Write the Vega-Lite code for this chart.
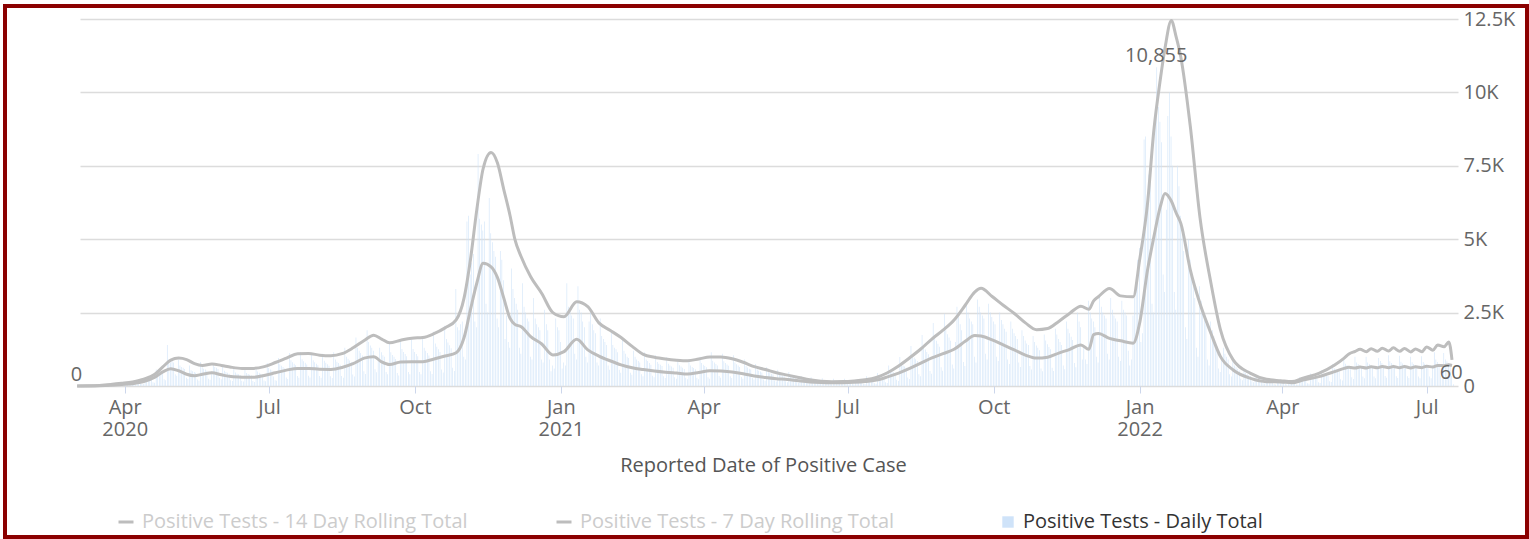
{
"$schema":"https://vega.github.io/schema/vega-lite/v6.json",
"width":1522,"height":531,
"autosize":{"type":"none"},
"padding":{"left":5,"top":6,"right":2,"bottom":2},
"background":"#ffffff",
"config":{"font":"Open Sans","view":{"stroke":"#8b0000","strokeWidth":4},"legend":{"labelFont":"Open Sans"},"axis":{"labelFont":"Open Sans","titleFont":"Open Sans"}},
"datasets":{
"daily":[
{"d":"2020-03-01","v":0},{"d":"2020-03-02","v":0},{"d":"2020-03-03","v":0},{"d":"2020-03-04","v":0},{"d":"2020-03-05","v":1},{"d":"2020-03-06","v":2},{"d":"2020-03-07","v":1},{"d":"2020-03-08","v":2},{"d":"2020-03-09","v":3},{"d":"2020-03-10","v":5},{"d":"2020-03-11","v":8},{"d":"2020-03-12","v":10},{"d":"2020-03-13","v":14},{"d":"2020-03-14","v":8},{"d":"2020-03-15","v":9},{"d":"2020-03-16","v":25},{"d":"2020-03-17","v":30},{"d":"2020-03-18","v":35},{"d":"2020-03-19","v":40},{"d":"2020-03-20","v":45},{"d":"2020-03-21","v":25},{"d":"2020-03-22","v":22},{"d":"2020-03-23","v":70},{"d":"2020-03-24","v":75},{"d":"2020-03-25","v":80},{"d":"2020-03-26","v":85},{"d":"2020-03-27","v":80},{"d":"2020-03-28","v":45},{"d":"2020-03-29","v":40},{"d":"2020-03-30","v":110},{"d":"2020-03-31","v":115},
{"d":"2020-04-01","v":120},{"d":"2020-04-02","v":125},{"d":"2020-04-03","v":120},{"d":"2020-04-04","v":60},{"d":"2020-04-05","v":55},{"d":"2020-04-06","v":170},{"d":"2020-04-07","v":160},{"d":"2020-04-08","v":165},{"d":"2020-04-09","v":170},{"d":"2020-04-10","v":160},{"d":"2020-04-11","v":80},{"d":"2020-04-12","v":70},{"d":"2020-04-13","v":280},{"d":"2020-04-14","v":260},{"d":"2020-04-15","v":250},{"d":"2020-04-16","v":270},{"d":"2020-04-17","v":260},{"d":"2020-04-18","v":130},{"d":"2020-04-19","v":110},{"d":"2020-04-20","v":560},{"d":"2020-04-21","v":480},{"d":"2020-04-22","v":460},{"d":"2020-04-23","v":500},{"d":"2020-04-24","v":470},{"d":"2020-04-25","v":230},{"d":"2020-04-26","v":200},{"d":"2020-04-27","v":1400},{"d":"2020-04-28","v":900},{"d":"2020-04-29","v":800},{"d":"2020-04-30","v":850},
{"d":"2020-05-01","v":800},{"d":"2020-05-02","v":400},{"d":"2020-05-03","v":350},{"d":"2020-05-04","v":900},{"d":"2020-05-05","v":700},{"d":"2020-05-06","v":650},{"d":"2020-05-07","v":620},{"d":"2020-05-08","v":580},{"d":"2020-05-09","v":280},{"d":"2020-05-10","v":240},{"d":"2020-05-11","v":700},{"d":"2020-05-12","v":540},{"d":"2020-05-13","v":500},{"d":"2020-05-14","v":480},{"d":"2020-05-15","v":450},{"d":"2020-05-16","v":220},{"d":"2020-05-17","v":180},{"d":"2020-05-18","v":820},{"d":"2020-05-19","v":640},{"d":"2020-05-20","v":590},{"d":"2020-05-21","v":560},{"d":"2020-05-22","v":520},{"d":"2020-05-23","v":250},{"d":"2020-05-24","v":210},{"d":"2020-05-25","v":500},{"d":"2020-05-26","v":720},{"d":"2020-05-27","v":650},{"d":"2020-05-28","v":620},{"d":"2020-05-29","v":580},{"d":"2020-05-30","v":280},{"d":"2020-05-31","v":230},
{"d":"2020-06-01","v":660},{"d":"2020-06-02","v":520},{"d":"2020-06-03","v":480},{"d":"2020-06-04","v":450},{"d":"2020-06-05","v":420},{"d":"2020-06-06","v":200},{"d":"2020-06-07","v":170},{"d":"2020-06-08","v":580},{"d":"2020-06-09","v":460},{"d":"2020-06-10","v":420},{"d":"2020-06-11","v":400},{"d":"2020-06-12","v":370},{"d":"2020-06-13","v":180},{"d":"2020-06-14","v":150},{"d":"2020-06-15","v":560},{"d":"2020-06-16","v":440},{"d":"2020-06-17","v":410},{"d":"2020-06-18","v":380},{"d":"2020-06-19","v":360},{"d":"2020-06-20","v":170},{"d":"2020-06-21","v":140},{"d":"2020-06-22","v":620},{"d":"2020-06-23","v":490},{"d":"2020-06-24","v":450},{"d":"2020-06-25","v":420},{"d":"2020-06-26","v":400},{"d":"2020-06-27","v":190},{"d":"2020-06-28","v":160},{"d":"2020-06-29","v":780},{"d":"2020-06-30","v":610},
{"d":"2020-07-01","v":560},{"d":"2020-07-02","v":530},{"d":"2020-07-03","v":320},{"d":"2020-07-04","v":200},{"d":"2020-07-05","v":180},{"d":"2020-07-06","v":950},{"d":"2020-07-07","v":740},{"d":"2020-07-08","v":690},{"d":"2020-07-09","v":650},{"d":"2020-07-10","v":600},{"d":"2020-07-11","v":290},{"d":"2020-07-12","v":240},{"d":"2020-07-13","v":1120},{"d":"2020-07-14","v":880},{"d":"2020-07-15","v":810},{"d":"2020-07-16","v":760},{"d":"2020-07-17","v":710},{"d":"2020-07-18","v":340},{"d":"2020-07-19","v":280},{"d":"2020-07-20","v":1160},{"d":"2020-07-21","v":910},{"d":"2020-07-22","v":840},{"d":"2020-07-23","v":790},{"d":"2020-07-24","v":730},{"d":"2020-07-25","v":350},{"d":"2020-07-26","v":290},{"d":"2020-07-27","v":1120},{"d":"2020-07-28","v":880},{"d":"2020-07-29","v":810},{"d":"2020-07-30","v":760},{"d":"2020-07-31","v":710},
{"d":"2020-08-01","v":340},{"d":"2020-08-02","v":280},{"d":"2020-08-03","v":1100},{"d":"2020-08-04","v":860},{"d":"2020-08-05","v":790},{"d":"2020-08-06","v":740},{"d":"2020-08-07","v":690},{"d":"2020-08-08","v":330},{"d":"2020-08-09","v":270},{"d":"2020-08-10","v":1150},{"d":"2020-08-11","v":900},{"d":"2020-08-12","v":830},{"d":"2020-08-13","v":780},{"d":"2020-08-14","v":720},{"d":"2020-08-15","v":340},{"d":"2020-08-16","v":280},{"d":"2020-08-17","v":1300},{"d":"2020-08-18","v":1000},{"d":"2020-08-19","v":930},{"d":"2020-08-20","v":870},{"d":"2020-08-21","v":810},{"d":"2020-08-22","v":390},{"d":"2020-08-23","v":320},{"d":"2020-08-24","v":1650},{"d":"2020-08-25","v":1300},{"d":"2020-08-26","v":1200},{"d":"2020-08-27","v":1120},{"d":"2020-08-28","v":1040},{"d":"2020-08-29","v":500},{"d":"2020-08-30","v":410},{"d":"2020-08-31","v":1900},
{"d":"2020-09-01","v":1500},{"d":"2020-09-02","v":1380},{"d":"2020-09-03","v":1300},{"d":"2020-09-04","v":1200},{"d":"2020-09-05","v":570},{"d":"2020-09-06","v":470},{"d":"2020-09-07","v":900},{"d":"2020-09-08","v":1300},{"d":"2020-09-09","v":1150},{"d":"2020-09-10","v":1050},{"d":"2020-09-11","v":1000},{"d":"2020-09-12","v":480},{"d":"2020-09-13","v":400},{"d":"2020-09-14","v":1450},{"d":"2020-09-15","v":1150},{"d":"2020-09-16","v":1060},{"d":"2020-09-17","v":1000},{"d":"2020-09-18","v":920},{"d":"2020-09-19","v":440},{"d":"2020-09-20","v":360},{"d":"2020-09-21","v":1600},{"d":"2020-09-22","v":1260},{"d":"2020-09-23","v":1160},{"d":"2020-09-24","v":1090},{"d":"2020-09-25","v":1010},{"d":"2020-09-26","v":480},{"d":"2020-09-27","v":400},{"d":"2020-09-28","v":1600},{"d":"2020-09-29","v":1260},{"d":"2020-09-30","v":1160},
{"d":"2020-10-01","v":1090},{"d":"2020-10-02","v":1010},{"d":"2020-10-03","v":480},{"d":"2020-10-04","v":400},{"d":"2020-10-05","v":1650},{"d":"2020-10-06","v":1300},{"d":"2020-10-07","v":1200},{"d":"2020-10-08","v":1120},{"d":"2020-10-09","v":1040},{"d":"2020-10-10","v":500},{"d":"2020-10-11","v":410},{"d":"2020-10-12","v":1850},{"d":"2020-10-13","v":1450},{"d":"2020-10-14","v":1340},{"d":"2020-10-15","v":1250},{"d":"2020-10-16","v":1160},{"d":"2020-10-17","v":560},{"d":"2020-10-18","v":460},{"d":"2020-10-19","v":2050},{"d":"2020-10-20","v":1600},{"d":"2020-10-21","v":1480},{"d":"2020-10-22","v":1390},{"d":"2020-10-23","v":1290},{"d":"2020-10-24","v":620},{"d":"2020-10-25","v":510},{"d":"2020-10-26","v":3300},{"d":"2020-10-27","v":2000},{"d":"2020-10-28","v":1900},{"d":"2020-10-29","v":2100},{"d":"2020-10-30","v":2200},{"d":"2020-10-31","v":1000},
{"d":"2020-11-01","v":900},{"d":"2020-11-02","v":5600},{"d":"2020-11-03","v":5800},{"d":"2020-11-04","v":3800},{"d":"2020-11-05","v":4200},{"d":"2020-11-06","v":4500},{"d":"2020-11-07","v":2200},{"d":"2020-11-08","v":2000},{"d":"2020-11-09","v":7900},{"d":"2020-11-10","v":5700},{"d":"2020-11-11","v":5500},{"d":"2020-11-12","v":5300},{"d":"2020-11-13","v":5600},{"d":"2020-11-14","v":2800},{"d":"2020-11-15","v":2500},{"d":"2020-11-16","v":6400},{"d":"2020-11-17","v":5200},{"d":"2020-11-18","v":4900},{"d":"2020-11-19","v":4600},{"d":"2020-11-20","v":4400},{"d":"2020-11-21","v":2300},{"d":"2020-11-22","v":2000},{"d":"2020-11-23","v":4600},{"d":"2020-11-24","v":4300},{"d":"2020-11-25","v":3600},{"d":"2020-11-26","v":1600},{"d":"2020-11-27","v":2400},{"d":"2020-11-28","v":1500},{"d":"2020-11-29","v":1300},{"d":"2020-11-30","v":4000},
{"d":"2020-12-01","v":3300},{"d":"2020-12-02","v":3000},{"d":"2020-12-03","v":2800},{"d":"2020-12-04","v":2600},{"d":"2020-12-05","v":1300},{"d":"2020-12-06","v":1100},{"d":"2020-12-07","v":3500},{"d":"2020-12-08","v":2700},{"d":"2020-12-09","v":2500},{"d":"2020-12-10","v":2300},{"d":"2020-12-11","v":2200},{"d":"2020-12-12","v":1000},{"d":"2020-12-13","v":900},{"d":"2020-12-14","v":3000},{"d":"2020-12-15","v":2300},{"d":"2020-12-16","v":2100},{"d":"2020-12-17","v":2000},{"d":"2020-12-18","v":1900},{"d":"2020-12-19","v":900},{"d":"2020-12-20","v":800},{"d":"2020-12-21","v":2600},{"d":"2020-12-22","v":2100},{"d":"2020-12-23","v":1900},{"d":"2020-12-24","v":900},{"d":"2020-12-25","v":500},{"d":"2020-12-26","v":700},{"d":"2020-12-27","v":600},{"d":"2020-12-28","v":2300},{"d":"2020-12-29","v":2000},{"d":"2020-12-30","v":1900},{"d":"2020-12-31","v":1500},
{"d":"2021-01-01","v":600},{"d":"2021-01-02","v":800},{"d":"2021-01-03","v":700},{"d":"2021-01-04","v":3500},{"d":"2021-01-05","v":2700},{"d":"2021-01-06","v":2600},{"d":"2021-01-07","v":2400},{"d":"2021-01-08","v":2300},{"d":"2021-01-09","v":1100},{"d":"2021-01-10","v":900},{"d":"2021-01-11","v":3400},{"d":"2021-01-12","v":2600},{"d":"2021-01-13","v":2500},{"d":"2021-01-14","v":2200},{"d":"2021-01-15","v":2000},{"d":"2021-01-16","v":1000},{"d":"2021-01-17","v":800},{"d":"2021-01-18","v":2200},{"d":"2021-01-19","v":2500},{"d":"2021-01-20","v":2100},{"d":"2021-01-21","v":1900},{"d":"2021-01-22","v":1800},{"d":"2021-01-23","v":800},{"d":"2021-01-24","v":700},{"d":"2021-01-25","v":2300},{"d":"2021-01-26","v":1700},{"d":"2021-01-27","v":1600},{"d":"2021-01-28","v":1500},{"d":"2021-01-29","v":1400},{"d":"2021-01-30","v":700},{"d":"2021-01-31","v":550},
{"d":"2021-02-01","v":1900},{"d":"2021-02-02","v":1400},{"d":"2021-02-03","v":1300},{"d":"2021-02-04","v":1250},{"d":"2021-02-05","v":1150},{"d":"2021-02-06","v":550},{"d":"2021-02-07","v":450},{"d":"2021-02-08","v":1600},{"d":"2021-02-09","v":1200},{"d":"2021-02-10","v":1100},{"d":"2021-02-11","v":1000},{"d":"2021-02-12","v":950},{"d":"2021-02-13","v":450},{"d":"2021-02-14","v":380},{"d":"2021-02-15","v":1200},{"d":"2021-02-16","v":1000},{"d":"2021-02-17","v":900},{"d":"2021-02-18","v":850},{"d":"2021-02-19","v":800},{"d":"2021-02-20","v":400},{"d":"2021-02-21","v":330},{"d":"2021-02-22","v":1150},{"d":"2021-02-23","v":900},{"d":"2021-02-24","v":850},{"d":"2021-02-25","v":780},{"d":"2021-02-26","v":720},{"d":"2021-02-27","v":350},{"d":"2021-02-28","v":300},
{"d":"2021-03-01","v":1050},{"d":"2021-03-02","v":820},{"d":"2021-03-03","v":760},{"d":"2021-03-04","v":720},{"d":"2021-03-05","v":680},{"d":"2021-03-06","v":330},{"d":"2021-03-07","v":270},{"d":"2021-03-08","v":980},{"d":"2021-03-09","v":760},{"d":"2021-03-10","v":700},{"d":"2021-03-11","v":660},{"d":"2021-03-12","v":620},{"d":"2021-03-13","v":300},{"d":"2021-03-14","v":250},{"d":"2021-03-15","v":900},{"d":"2021-03-16","v":710},{"d":"2021-03-17","v":660},{"d":"2021-03-18","v":620},{"d":"2021-03-19","v":580},{"d":"2021-03-20","v":280},{"d":"2021-03-21","v":230},{"d":"2021-03-22","v":880},{"d":"2021-03-23","v":700},{"d":"2021-03-24","v":650},{"d":"2021-03-25","v":610},{"d":"2021-03-26","v":570},{"d":"2021-03-27","v":280},{"d":"2021-03-28","v":230},{"d":"2021-03-29","v":1000},{"d":"2021-03-30","v":780},{"d":"2021-03-31","v":720},
{"d":"2021-04-01","v":680},{"d":"2021-04-02","v":640},{"d":"2021-04-03","v":300},{"d":"2021-04-04","v":250},{"d":"2021-04-05","v":1150},{"d":"2021-04-06","v":860},{"d":"2021-04-07","v":800},{"d":"2021-04-08","v":750},{"d":"2021-04-09","v":700},{"d":"2021-04-10","v":340},{"d":"2021-04-11","v":280},{"d":"2021-04-12","v":1100},{"d":"2021-04-13","v":840},{"d":"2021-04-14","v":780},{"d":"2021-04-15","v":730},{"d":"2021-04-16","v":690},{"d":"2021-04-17","v":330},{"d":"2021-04-18","v":270},{"d":"2021-04-19","v":1050},{"d":"2021-04-20","v":800},{"d":"2021-04-21","v":740},{"d":"2021-04-22","v":700},{"d":"2021-04-23","v":650},{"d":"2021-04-24","v":310},{"d":"2021-04-25","v":250},{"d":"2021-04-26","v":900},{"d":"2021-04-27","v":680},{"d":"2021-04-28","v":630},{"d":"2021-04-29","v":590},{"d":"2021-04-30","v":560},
{"d":"2021-05-01","v":270},{"d":"2021-05-02","v":220},{"d":"2021-05-03","v":750},{"d":"2021-05-04","v":570},{"d":"2021-05-05","v":520},{"d":"2021-05-06","v":490},{"d":"2021-05-07","v":460},{"d":"2021-05-08","v":220},{"d":"2021-05-09","v":180},{"d":"2021-05-10","v":640},{"d":"2021-05-11","v":480},{"d":"2021-05-12","v":450},{"d":"2021-05-13","v":420},{"d":"2021-05-14","v":390},{"d":"2021-05-15","v":190},{"d":"2021-05-16","v":150},{"d":"2021-05-17","v":550},{"d":"2021-05-18","v":420},{"d":"2021-05-19","v":390},{"d":"2021-05-20","v":360},{"d":"2021-05-21","v":340},{"d":"2021-05-22","v":160},{"d":"2021-05-23","v":130},{"d":"2021-05-24","v":480},{"d":"2021-05-25","v":370},{"d":"2021-05-26","v":340},{"d":"2021-05-27","v":320},{"d":"2021-05-28","v":300},{"d":"2021-05-29","v":140},{"d":"2021-05-30","v":110},{"d":"2021-05-31","v":250},
{"d":"2021-06-01","v":330},{"d":"2021-06-02","v":270},{"d":"2021-06-03","v":250},{"d":"2021-06-04","v":230},{"d":"2021-06-05","v":110},{"d":"2021-06-06","v":90},{"d":"2021-06-07","v":300},{"d":"2021-06-08","v":230},{"d":"2021-06-09","v":210},{"d":"2021-06-10","v":200},{"d":"2021-06-11","v":185},{"d":"2021-06-12","v":90},{"d":"2021-06-13","v":70},{"d":"2021-06-14","v":260},{"d":"2021-06-15","v":200},{"d":"2021-06-16","v":185},{"d":"2021-06-17","v":170},{"d":"2021-06-18","v":160},{"d":"2021-06-19","v":75},{"d":"2021-06-20","v":60},{"d":"2021-06-21","v":245},{"d":"2021-06-22","v":190},{"d":"2021-06-23","v":175},{"d":"2021-06-24","v":165},{"d":"2021-06-25","v":150},{"d":"2021-06-26","v":72},{"d":"2021-06-27","v":58},{"d":"2021-06-28","v":250},{"d":"2021-06-29","v":195},{"d":"2021-06-30","v":180},
{"d":"2021-07-01","v":170},{"d":"2021-07-02","v":155},{"d":"2021-07-03","v":75},{"d":"2021-07-04","v":60},{"d":"2021-07-05","v":180},{"d":"2021-07-06","v":240},{"d":"2021-07-07","v":200},{"d":"2021-07-08","v":185},{"d":"2021-07-09","v":170},{"d":"2021-07-10","v":80},{"d":"2021-07-11","v":65},{"d":"2021-07-12","v":330},{"d":"2021-07-13","v":250},{"d":"2021-07-14","v":235},{"d":"2021-07-15","v":220},{"d":"2021-07-16","v":205},{"d":"2021-07-17","v":95},{"d":"2021-07-18","v":80},{"d":"2021-07-19","v":440},{"d":"2021-07-20","v":340},{"d":"2021-07-21","v":315},{"d":"2021-07-22","v":295},{"d":"2021-07-23","v":275},{"d":"2021-07-24","v":130},{"d":"2021-07-25","v":105},{"d":"2021-07-26","v":700},{"d":"2021-07-27","v":540},{"d":"2021-07-28","v":500},{"d":"2021-07-29","v":470},{"d":"2021-07-30","v":440},{"d":"2021-07-31","v":210},
{"d":"2021-08-01","v":170},{"d":"2021-08-02","v":990},{"d":"2021-08-03","v":760},{"d":"2021-08-04","v":700},{"d":"2021-08-05","v":660},{"d":"2021-08-06","v":620},{"d":"2021-08-07","v":290},{"d":"2021-08-08","v":240},{"d":"2021-08-09","v":1360},{"d":"2021-08-10","v":1050},{"d":"2021-08-11","v":970},{"d":"2021-08-12","v":910},{"d":"2021-08-13","v":850},{"d":"2021-08-14","v":400},{"d":"2021-08-15","v":330},{"d":"2021-08-16","v":1740},{"d":"2021-08-17","v":1340},{"d":"2021-08-18","v":1240},{"d":"2021-08-19","v":1160},{"d":"2021-08-20","v":1080},{"d":"2021-08-21","v":510},{"d":"2021-08-22","v":420},{"d":"2021-08-23","v":2150},{"d":"2021-08-24","v":1660},{"d":"2021-08-25","v":1540},{"d":"2021-08-26","v":1440},{"d":"2021-08-27","v":1340},{"d":"2021-08-28","v":640},{"d":"2021-08-29","v":520},{"d":"2021-08-30","v":2460},{"d":"2021-08-31","v":1900},
{"d":"2021-09-01","v":1760},{"d":"2021-09-02","v":1650},{"d":"2021-09-03","v":1540},{"d":"2021-09-04","v":730},{"d":"2021-09-05","v":600},{"d":"2021-09-06","v":1500},{"d":"2021-09-07","v":2700},{"d":"2021-09-08","v":2400},{"d":"2021-09-09","v":2100},{"d":"2021-09-10","v":1900},{"d":"2021-09-11","v":820},{"d":"2021-09-12","v":680},{"d":"2021-09-13","v":2900},{"d":"2021-09-14","v":2500},{"d":"2021-09-15","v":2300},{"d":"2021-09-16","v":2200},{"d":"2021-09-17","v":2100},{"d":"2021-09-18","v":1000},{"d":"2021-09-19","v":800},{"d":"2021-09-20","v":2950},{"d":"2021-09-21","v":2700},{"d":"2021-09-22","v":2500},{"d":"2021-09-23","v":2400},{"d":"2021-09-24","v":2300},{"d":"2021-09-25","v":1100},{"d":"2021-09-26","v":900},{"d":"2021-09-27","v":2800},{"d":"2021-09-28","v":2500},{"d":"2021-09-29","v":2350},{"d":"2021-09-30","v":2200},
{"d":"2021-10-01","v":2100},{"d":"2021-10-02","v":1000},{"d":"2021-10-03","v":850},{"d":"2021-10-04","v":2500},{"d":"2021-10-05","v":2250},{"d":"2021-10-06","v":2100},{"d":"2021-10-07","v":1950},{"d":"2021-10-08","v":1850},{"d":"2021-10-09","v":900},{"d":"2021-10-10","v":750},{"d":"2021-10-11","v":2200},{"d":"2021-10-12","v":1950},{"d":"2021-10-13","v":1800},{"d":"2021-10-14","v":1700},{"d":"2021-10-15","v":1600},{"d":"2021-10-16","v":800},{"d":"2021-10-17","v":650},{"d":"2021-10-18","v":1900},{"d":"2021-10-19","v":1700},{"d":"2021-10-20","v":1550},{"d":"2021-10-21","v":1450},{"d":"2021-10-22","v":1400},{"d":"2021-10-23","v":680},{"d":"2021-10-24","v":560},{"d":"2021-10-25","v":1700},{"d":"2021-10-26","v":1500},{"d":"2021-10-27","v":1380},{"d":"2021-10-28","v":1300},{"d":"2021-10-29","v":1220},{"d":"2021-10-30","v":600},{"d":"2021-10-31","v":500},
{"d":"2021-11-01","v":1750},{"d":"2021-11-02","v":1550},{"d":"2021-11-03","v":1420},{"d":"2021-11-04","v":1330},{"d":"2021-11-05","v":1250},{"d":"2021-11-06","v":620},{"d":"2021-11-07","v":510},{"d":"2021-11-08","v":1950},{"d":"2021-11-09","v":1750},{"d":"2021-11-10","v":1600},{"d":"2021-11-11","v":1500},{"d":"2021-11-12","v":1400},{"d":"2021-11-13","v":700},{"d":"2021-11-14","v":570},{"d":"2021-11-15","v":2200},{"d":"2021-11-16","v":1950},{"d":"2021-11-17","v":1800},{"d":"2021-11-18","v":1680},{"d":"2021-11-19","v":1570},{"d":"2021-11-20","v":780},{"d":"2021-11-21","v":640},{"d":"2021-11-22","v":2500},{"d":"2021-11-23","v":2200},{"d":"2021-11-24","v":2000},{"d":"2021-11-25","v":900},{"d":"2021-11-26","v":1400},{"d":"2021-11-27","v":900},{"d":"2021-11-28","v":750},{"d":"2021-11-29","v":2900},{"d":"2021-11-30","v":2500},
{"d":"2021-12-01","v":2300},{"d":"2021-12-02","v":2200},{"d":"2021-12-03","v":2000},{"d":"2021-12-04","v":1000},{"d":"2021-12-05","v":800},{"d":"2021-12-06","v":3100},{"d":"2021-12-07","v":2700},{"d":"2021-12-08","v":2500},{"d":"2021-12-09","v":2400},{"d":"2021-12-10","v":2300},{"d":"2021-12-11","v":1100},{"d":"2021-12-12","v":900},{"d":"2021-12-13","v":3000},{"d":"2021-12-14","v":2600},{"d":"2021-12-15","v":2400},{"d":"2021-12-16","v":2300},{"d":"2021-12-17","v":2200},{"d":"2021-12-18","v":1000},{"d":"2021-12-19","v":850},{"d":"2021-12-20","v":2900},{"d":"2021-12-21","v":2600},{"d":"2021-12-22","v":2500},{"d":"2021-12-23","v":2400},{"d":"2021-12-24","v":1200},{"d":"2021-12-25","v":700},{"d":"2021-12-26","v":900},{"d":"2021-12-27","v":2400},{"d":"2021-12-28","v":3000},{"d":"2021-12-29","v":3500},{"d":"2021-12-30","v":4300},{"d":"2021-12-31","v":4700},
{"d":"2022-01-01","v":1500},{"d":"2022-01-02","v":1800},{"d":"2022-01-03","v":8400},{"d":"2022-01-04","v":8500},{"d":"2022-01-05","v":6500},{"d":"2022-01-06","v":7200},{"d":"2022-01-07","v":7000},{"d":"2022-01-08","v":2800},{"d":"2022-01-09","v":2500},{"d":"2022-01-10","v":9000},{"d":"2022-01-11","v":10855},{"d":"2022-01-12","v":9500},{"d":"2022-01-13","v":9000},{"d":"2022-01-14","v":8300},{"d":"2022-01-15","v":3800},{"d":"2022-01-16","v":3200},{"d":"2022-01-17","v":6000},{"d":"2022-01-18","v":9200},{"d":"2022-01-19","v":10000},{"d":"2022-01-20","v":8500},{"d":"2022-01-21","v":7500},{"d":"2022-01-22","v":3200},{"d":"2022-01-23","v":2600},{"d":"2022-01-24","v":7500},{"d":"2022-01-25","v":6800},{"d":"2022-01-26","v":5800},{"d":"2022-01-27","v":5200},{"d":"2022-01-28","v":4600},{"d":"2022-01-29","v":2000},{"d":"2022-01-30","v":1600},{"d":"2022-01-31","v":5000},
{"d":"2022-02-01","v":4300},{"d":"2022-02-02","v":3800},{"d":"2022-02-03","v":3400},{"d":"2022-02-04","v":3000},{"d":"2022-02-05","v":1300},{"d":"2022-02-06","v":1000},{"d":"2022-02-07","v":3400},{"d":"2022-02-08","v":2900},{"d":"2022-02-09","v":2600},{"d":"2022-02-10","v":2300},{"d":"2022-02-11","v":2100},{"d":"2022-02-12","v":900},{"d":"2022-02-13","v":700},{"d":"2022-02-14","v":2200},{"d":"2022-02-15","v":1900},{"d":"2022-02-16","v":1700},{"d":"2022-02-17","v":1500},{"d":"2022-02-18","v":1350},{"d":"2022-02-19","v":600},{"d":"2022-02-20","v":480},{"d":"2022-02-21","v":900},{"d":"2022-02-22","v":1300},{"d":"2022-02-23","v":1100},{"d":"2022-02-24","v":1000},{"d":"2022-02-25","v":900},{"d":"2022-02-26","v":400},{"d":"2022-02-27","v":320},{"d":"2022-02-28","v":900},
{"d":"2022-03-01","v":700},{"d":"2022-03-02","v":640},{"d":"2022-03-03","v":580},{"d":"2022-03-04","v":530},{"d":"2022-03-05","v":250},{"d":"2022-03-06","v":200},{"d":"2022-03-07","v":560},{"d":"2022-03-08","v":440},{"d":"2022-03-09","v":400},{"d":"2022-03-10","v":370},{"d":"2022-03-11","v":340},{"d":"2022-03-12","v":160},{"d":"2022-03-13","v":130},{"d":"2022-03-14","v":370},{"d":"2022-03-15","v":290},{"d":"2022-03-16","v":270},{"d":"2022-03-17","v":250},{"d":"2022-03-18","v":230},{"d":"2022-03-19","v":110},{"d":"2022-03-20","v":85},{"d":"2022-03-21","v":240},{"d":"2022-03-22","v":190},{"d":"2022-03-23","v":175},{"d":"2022-03-24","v":165},{"d":"2022-03-25","v":150},{"d":"2022-03-26","v":70},{"d":"2022-03-27","v":55},{"d":"2022-03-28","v":215},{"d":"2022-03-29","v":170},{"d":"2022-03-30","v":160},{"d":"2022-03-31","v":150},
{"d":"2022-04-01","v":140},{"d":"2022-04-02","v":65},{"d":"2022-04-03","v":50},{"d":"2022-04-04","v":180},{"d":"2022-04-05","v":145},{"d":"2022-04-06","v":135},{"d":"2022-04-07","v":125},{"d":"2022-04-08","v":115},{"d":"2022-04-09","v":55},{"d":"2022-04-10","v":45},{"d":"2022-04-11","v":300},{"d":"2022-04-12","v":240},{"d":"2022-04-13","v":225},{"d":"2022-04-14","v":210},{"d":"2022-04-15","v":195},{"d":"2022-04-16","v":90},{"d":"2022-04-17","v":75},{"d":"2022-04-18","v":430},{"d":"2022-04-19","v":340},{"d":"2022-04-20","v":320},{"d":"2022-04-21","v":300},{"d":"2022-04-22","v":280},{"d":"2022-04-23","v":130},{"d":"2022-04-24","v":105},{"d":"2022-04-25","v":540},{"d":"2022-04-26","v":430},{"d":"2022-04-27","v":400},{"d":"2022-04-28","v":370},{"d":"2022-04-29","v":350},{"d":"2022-04-30","v":165},
{"d":"2022-05-01","v":135},{"d":"2022-05-02","v":750},{"d":"2022-05-03","v":600},{"d":"2022-05-04","v":560},{"d":"2022-05-05","v":520},{"d":"2022-05-06","v":490},{"d":"2022-05-07","v":230},{"d":"2022-05-08","v":190},{"d":"2022-05-09","v":950},{"d":"2022-05-10","v":760},{"d":"2022-05-11","v":710},{"d":"2022-05-12","v":660},{"d":"2022-05-13","v":620},{"d":"2022-05-14","v":300},{"d":"2022-05-15","v":240},{"d":"2022-05-16","v":1000},{"d":"2022-05-17","v":800},{"d":"2022-05-18","v":750},{"d":"2022-05-19","v":700},{"d":"2022-05-20","v":660},{"d":"2022-05-21","v":320},{"d":"2022-05-22","v":260},{"d":"2022-05-23","v":1000},{"d":"2022-05-24","v":800},{"d":"2022-05-25","v":750},{"d":"2022-05-26","v":700},{"d":"2022-05-27","v":660},{"d":"2022-05-28","v":320},{"d":"2022-05-29","v":260},{"d":"2022-05-30","v":650},{"d":"2022-05-31","v":950},
{"d":"2022-06-01","v":850},{"d":"2022-06-02","v":780},{"d":"2022-06-03","v":720},{"d":"2022-06-04","v":340},{"d":"2022-06-05","v":280},{"d":"2022-06-06","v":1050},{"d":"2022-06-07","v":840},{"d":"2022-06-08","v":780},{"d":"2022-06-09","v":730},{"d":"2022-06-10","v":690},{"d":"2022-06-11","v":330},{"d":"2022-06-12","v":270},{"d":"2022-06-13","v":1030},{"d":"2022-06-14","v":830},{"d":"2022-06-15","v":770},{"d":"2022-06-16","v":720},{"d":"2022-06-17","v":680},{"d":"2022-06-18","v":330},{"d":"2022-06-19","v":270},{"d":"2022-06-20","v":1000},{"d":"2022-06-21","v":810},{"d":"2022-06-22","v":750},{"d":"2022-06-23","v":700},{"d":"2022-06-24","v":660},{"d":"2022-06-25","v":320},{"d":"2022-06-26","v":260},{"d":"2022-06-27","v":1010},{"d":"2022-06-28","v":820},{"d":"2022-06-29","v":760},{"d":"2022-06-30","v":710},
{"d":"2022-07-01","v":670},{"d":"2022-07-02","v":320},{"d":"2022-07-03","v":260},{"d":"2022-07-04","v":700},{"d":"2022-07-05","v":1150},{"d":"2022-07-06","v":900},{"d":"2022-07-07","v":820},{"d":"2022-07-08","v":760},{"d":"2022-07-09","v":360},{"d":"2022-07-10","v":290},{"d":"2022-07-11","v":1120},{"d":"2022-07-12","v":900},{"d":"2022-07-13","v":840},{"d":"2022-07-14","v":780},{"d":"2022-07-15","v":730},{"d":"2022-07-16","v":350},{"d":"2022-07-17","v":60}
],
"lines":[
{"d":"2020-03-02","a":0,"b":0},{"d":"2020-03-09","a":5,"b":3},{"d":"2020-03-16","a":20,"b":10},{"d":"2020-03-23","a":50,"b":25},{"d":"2020-03-30","a":90,"b":50},{"d":"2020-04-06","a":140,"b":80},{"d":"2020-04-13","a":230,"b":150},{"d":"2020-04-20","a":400,"b":300},{"d":"2020-04-25","a":650,"b":480},{"d":"2020-04-30","a":880,"b":590},{"d":"2020-05-05","a":950,"b":520},{"d":"2020-05-10","a":900,"b":400},{"d":"2020-05-15","a":760,"b":350},{"d":"2020-05-20","a":700,"b":400},{"d":"2020-05-26","a":750,"b":450},{"d":"2020-06-01","a":700,"b":380},{"d":"2020-06-07","a":640,"b":320},{"d":"2020-06-14","a":600,"b":300},{"d":"2020-06-21","a":600,"b":295},{"d":"2020-06-28","a":660,"b":360},{"d":"2020-07-05","a":800,"b":450},{"d":"2020-07-12","a":950,"b":540},{"d":"2020-07-19","a":1100,"b":600},{"d":"2020-07-26","a":1110,"b":600},{"d":"2020-08-02","a":1050,"b":570},{"d":"2020-08-09","a":1030,"b":565},{"d":"2020-08-16","a":1100,"b":630},{"d":"2020-08-23","a":1300,"b":760},{"d":"2020-08-30","a":1550,"b":950},{"d":"2020-09-05","a":1730,"b":1000},{"d":"2020-09-10","a":1600,"b":820},{"d":"2020-09-15","a":1470,"b":730},{"d":"2020-09-22","a":1560,"b":820},{"d":"2020-09-29","a":1630,"b":830},{"d":"2020-10-06","a":1650,"b":830},{"d":"2020-10-13","a":1780,"b":920},{"d":"2020-10-20","a":1980,"b":1020},{"d":"2020-10-27","a":2250,"b":1130},{"d":"2020-11-01","a":3000,"b":1650},{"d":"2020-11-05","a":4300,"b":2600},{"d":"2020-11-09","a":6000,"b":3500},{"d":"2020-11-13","a":7400,"b":4180},{"d":"2020-11-18","a":7950,"b":4060},{"d":"2020-11-22","a":7600,"b":3700},{"d":"2020-11-26","a":6700,"b":3000},{"d":"2020-11-30","a":5800,"b":2300},{"d":"2020-12-03","a":5000,"b":2100},{"d":"2020-12-07","a":4400,"b":2020},{"d":"2020-12-13","a":3720,"b":1680},{"d":"2020-12-20","a":3150,"b":1430},{"d":"2020-12-27","a":2500,"b":1060},
{"d":"2021-01-03","a":2360,"b":1170},{"d":"2021-01-11","a":2870,"b":1590},{"d":"2021-01-18","a":2700,"b":1230},{"d":"2021-01-25","a":2150,"b":1020},{"d":"2021-02-01","a":1900,"b":860},{"d":"2021-02-08","a":1650,"b":720},{"d":"2021-02-15","a":1350,"b":620},{"d":"2021-02-22","a":1080,"b":560},{"d":"2021-03-01","a":980,"b":510},{"d":"2021-03-08","a":920,"b":470},{"d":"2021-03-15","a":880,"b":440},{"d":"2021-03-22","a":860,"b":410},{"d":"2021-03-29","a":920,"b":460},{"d":"2021-04-05","a":990,"b":520},{"d":"2021-04-12","a":990,"b":510},{"d":"2021-04-19","a":930,"b":480},{"d":"2021-04-26","a":810,"b":420},{"d":"2021-05-03","a":660,"b":340},{"d":"2021-05-10","a":560,"b":290},{"d":"2021-05-17","a":450,"b":250},{"d":"2021-05-24","a":370,"b":220},{"d":"2021-05-31","a":290,"b":175},{"d":"2021-06-07","a":210,"b":136},{"d":"2021-06-14","a":165,"b":118},{"d":"2021-06-21","a":148,"b":112},{"d":"2021-06-28","a":150,"b":114},{"d":"2021-07-05","a":170,"b":125},{"d":"2021-07-12","a":210,"b":150},{"d":"2021-07-19","a":290,"b":200},{"d":"2021-07-26","a":450,"b":310},{"d":"2021-08-02","a":680,"b":440},{"d":"2021-08-09","a":960,"b":600},{"d":"2021-08-16","a":1260,"b":780},{"d":"2021-08-23","a":1600,"b":960},{"d":"2021-08-30","a":1900,"b":1100},{"d":"2021-09-06","a":2250,"b":1250},{"d":"2021-09-13","a":2750,"b":1520},{"d":"2021-09-19","a":3200,"b":1720},{"d":"2021-09-23","a":3330,"b":1700},{"d":"2021-09-30","a":3050,"b":1570},{"d":"2021-10-07","a":2750,"b":1400},{"d":"2021-10-14","a":2470,"b":1230},{"d":"2021-10-21","a":2150,"b":1050},{"d":"2021-10-28","a":1920,"b":950},{"d":"2021-11-04","a":1960,"b":980},{"d":"2021-11-11","a":2200,"b":1120},{"d":"2021-11-18","a":2480,"b":1250},{"d":"2021-11-25","a":2720,"b":1400},{"d":"2021-11-30","a":2610,"b":1250},{"d":"2021-12-03","a":2900,"b":1750},{"d":"2021-12-06","a":3040,"b":1790},{"d":"2021-12-13","a":3320,"b":1620},{"d":"2021-12-20","a":3070,"b":1540},{"d":"2021-12-28","a":3040,"b":1460},
{"d":"2022-01-01","a":4290,"b":2140},{"d":"2022-01-06","a":6220,"b":3950},{"d":"2022-01-10","a":8720,"b":5080},{"d":"2022-01-14","a":10420,"b":6100},{"d":"2022-01-17","a":11500,"b":6560},{"d":"2022-01-21","a":12450,"b":6300},{"d":"2022-01-24","a":11900,"b":5900},{"d":"2022-01-27","a":11200,"b":5540},{"d":"2022-02-02","a":8830,"b":3950},{"d":"2022-02-08","a":5770,"b":2820},{"d":"2022-02-15","a":3500,"b":1790},{"d":"2022-02-21","a":1910,"b":1000},{"d":"2022-03-01","a":890,"b":545},{"d":"2022-03-12","a":430,"b":260},{"d":"2022-03-22","a":227,"b":147},{"d":"2022-03-31","a":180,"b":140},{"d":"2022-04-07","a":150,"b":110},{"d":"2022-04-14","a":270,"b":200},{"d":"2022-04-24","a":430,"b":320},{"d":"2022-05-04","a":715,"b":490},{"d":"2022-05-10","a":950,"b":600},{"d":"2022-05-13","a":1090,"b":636},{"d":"2022-05-17","a":1180,"b":610},{"d":"2022-05-20","a":1250,"b":650},{"d":"2022-05-24","a":1170,"b":615},{"d":"2022-05-27","a":1270,"b":655},{"d":"2022-05-31","a":1180,"b":620},{"d":"2022-06-03","a":1290,"b":665},{"d":"2022-06-07","a":1190,"b":625},{"d":"2022-06-10","a":1300,"b":665},{"d":"2022-06-14","a":1180,"b":620},{"d":"2022-06-17","a":1280,"b":660},{"d":"2022-06-21","a":1160,"b":615},{"d":"2022-06-24","a":1260,"b":655},{"d":"2022-06-28","a":1170,"b":625},{"d":"2022-07-01","a":1330,"b":670},{"d":"2022-07-05","a":1220,"b":650},{"d":"2022-07-08","a":1400,"b":700},{"d":"2022-07-12","a":1340,"b":690},{"d":"2022-07-15","a":1500,"b":720},{"d":"2022-07-17","a":890,"b":700}
],
"labels":[
{"d":"2020-03-01","v":0,"t":"0"},{"d":"2022-01-11","v":10855,"t":"10,855"},{"d":"2022-07-16","v":60,"t":"60"}
]
},
"layer":[
{"data":{"name":"daily"},"mark":{"type":"bar"},
"encoding":{
"x":{"field":"d","type":"temporal","timeUnit":"utcyearmonthdate","title":"Reported Date of Positive Case",
"scale":{"type":"utc","domain":[{"year":2020,"month":2,"date":29,"utc":true},{"year":2022,"month":7,"date":17,"utc":true}],"range":[69,1447]},
"axis":{"orient":"bottom","offset":-151,
"values":[{"year":2020,"month":4,"date":1,"utc":true},{"year":2020,"month":7,"date":1,"utc":true},{"year":2020,"month":10,"date":1,"utc":true},{"year":2021,"month":1,"date":1,"utc":true},{"year":2021,"month":4,"date":1,"utc":true},{"year":2021,"month":7,"date":1,"utc":true},{"year":2021,"month":10,"date":1,"utc":true},{"year":2022,"month":1,"date":1,"utc":true},{"year":2022,"month":4,"date":1,"utc":true},{"year":2022,"month":7,"date":1,"utc":true}],
"labelExpr":"datum.index == 0 || utcFormat(datum.value, '%m') == '01' ? [utcFormat(datum.value, '%b'), '\u00a0\u00a0\u00a0\u00a0' + utcFormat(datum.value, '%Y')] : utcFormat(datum.value, '%b')",
"grid":false,"domain":false,"ticks":true,"tickColor":"#ccd6eb","tickSize":7,"tickWidth":1,
"labelPadding":4,"labelColor":"#666666","labelFontSize":20,"labelLineHeight":22,"labelFlush":false,"labelOverlap":false,"labelBound":false,
"title":"Reported Date of Positive Case","titleColor":"#555555","titleFontSize":20,"titleFontWeight":"normal","titlePadding":16}},
"y":{"field":"v","type":"quantitative","title":null,
"scale":{"domain":[0,12500],"range":[380,13],"nice":false,"zero":false},
"axis":{"orient":"right","offset":-75,"values":[0,2500,5000,7500,10000,12500],
"labelExpr":"datum.value == 0 ? '0' : (datum.value/1000) + 'K'",
"grid":true,"gridColor":"#dcdcdc","gridWidth":1.5,"domain":false,"ticks":false,
"labelPadding":11,"labelColor":"#666666","labelFontSize":20,"labelFlush":false,"labelOverlap":false,"labelBound":false,"title":null}},
"fill":{"datum":"Positive Tests - Daily Total","type":"nominal",
"scale":{"domain":["Positive Tests - Daily Total"],"range":["#cfe3f9"]},
"legend":{"orient":"none","legendX":993,"legendY":506,"title":null,"padding":0,
"labelColor":"#333333","labelFontSize":20,"labelLimit":1000,"labelOffset":5,
"symbolType":"square","symbolSize":130,"symbolStrokeWidth":0}}
}},
{"data":{"name":"lines"},"mark":{"type":"line","strokeWidth":3,"interpolate":"monotone"},
"encoding":{
"x":{"field":"d","type":"temporal","title":"Reported Date of Positive Case"},
"y":{"field":"a","type":"quantitative","title":null},
"stroke":{"datum":"Positive Tests - 14 Day Rolling Total","type":"nominal",
"scale":{"domain":["Positive Tests - 14 Day Rolling Total","Positive Tests - 7 Day Rolling Total"],"range":["#bdbdbd","#bdbdbd"]},
"legend":{"orient":"none","legendX":111,"legendY":506,"direction":"horizontal","title":null,"padding":0,
"labelColor":"#cccccc","labelFontSize":20,"labelLimit":1000,"labelOffset":6,"columnPadding":82,
"symbolType":"stroke","symbolSize":225,"symbolStrokeWidth":3,"symbolStrokeColor":"#cccccc"}}
}},
{"data":{"name":"lines"},"mark":{"type":"line","strokeWidth":3,"interpolate":"monotone"},
"encoding":{
"x":{"field":"d","type":"temporal","title":"Reported Date of Positive Case"},
"y":{"field":"b","type":"quantitative","title":null},
"stroke":{"datum":"Positive Tests - 7 Day Rolling Total","type":"nominal"}
}},
{"data":{"name":"labels"},"mark":{"type":"text","dy":-11,"fontSize":20,"fill":"#666666","font":"Open Sans"},
"encoding":{
"x":{"field":"d","type":"temporal","timeUnit":"utcyearmonthdate","bandPosition":0.5,"title":"Reported Date of Positive Case"},
"y":{"field":"v","type":"quantitative","title":null},
"text":{"field":"t","type":"nominal"}
}}
]
}
